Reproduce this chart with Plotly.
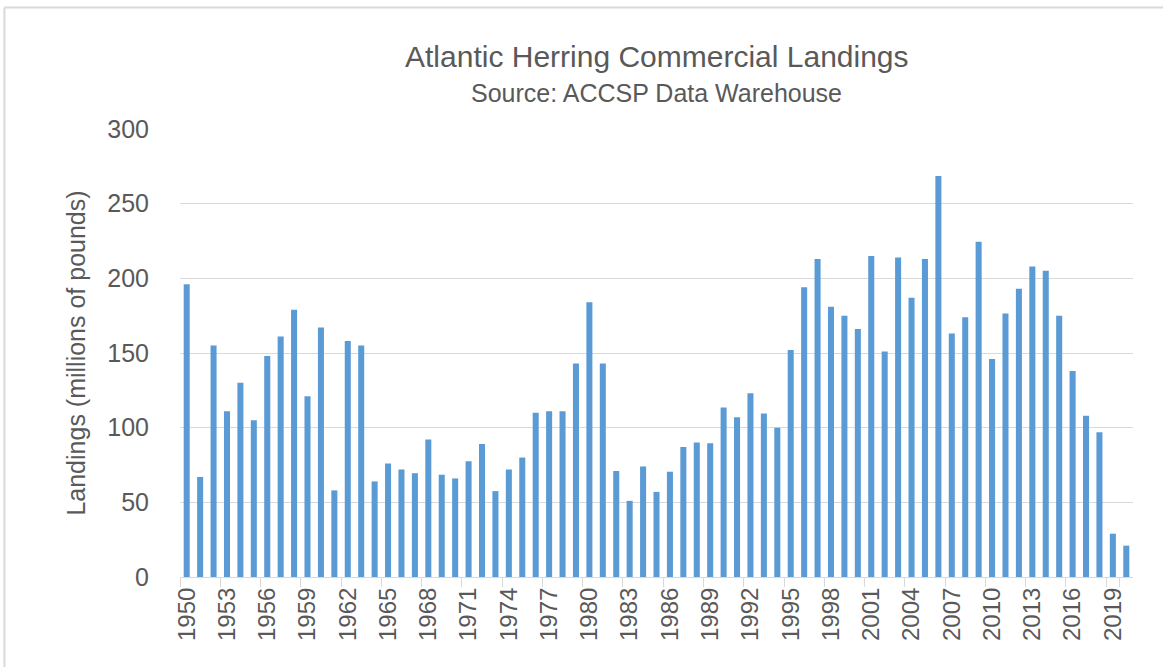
import plotly.graph_objects as go

years = [str(y) for y in range(1950, 2021)]
landings = [
    196, 67, 155, 111, 130, 105, 148, 161, 179, 121,
    167, 58, 158, 155, 64, 76, 72, 69.5, 92, 68.5,
    66, 77.5, 89, 57.5, 72, 80, 110, 111, 111, 143,
    184, 143, 71, 51, 74, 57, 70.5, 87, 90, 89.5,
    113.5, 107, 123, 109.5, 100, 152, 194, 213, 181, 175,
    166, 215, 151, 214, 187, 213, 268.5, 163, 174, 224.5,
    146, 176.5, 193, 208, 205, 175, 138, 108, 97, 29,
    21,
]
tick_labels = [str(y) for y in range(1950, 2021, 3)]

title_text = "Atlantic Herring Commercial Landings"
subtitle_text = "Source: ACCSP Data Warehouse"
y_title = "Landings (millions of pounds)"

font_family = "Liberation Sans, Arial, sans-serif"
text_color = "#595959"

fig = go.Figure(
    go.Bar(x=years, y=landings, marker=dict(color="#5b9bd5", line=dict(width=0)))
)

fig.update_layout(
    width=1163,
    height=667,
    margin=dict(l=180, r=30, t=129, b=90),
    paper_bgcolor="white",
    plot_bgcolor="white",
    bargap=0.55,
    showlegend=False,
    font=dict(family=font_family, color=text_color),
)

fig.update_xaxes(
    type="category",
    tickmode="array",
    tickvals=tick_labels,
    ticktext=tick_labels,
    tickangle=-90,
    tickfont=dict(size=24, color=text_color),
    showline=True,
    linecolor="#d9d9d9",
    linewidth=1,
    showgrid=False,
    ticks="outside",
    tickson="boundaries",
    ticklen=9,
    tickcolor="#d9d9d9",
)

fig.update_yaxes(
    range=[0, 300],
    tickvals=[0, 50, 100, 150, 200, 250, 300],
    tickfont=dict(size=25, color=text_color),
    showgrid=True,
    gridcolor="#d9d9d9",
    gridwidth=1,
    zeroline=False,
    showline=False,
    ticklabelstandoff=30,
    title=dict(text=y_title, font=dict(size=25, color=text_color), standoff=14),
)

fig.add_annotation(
    text=title_text, xref="paper", yref="paper", x=0.5, y=1, yshift=73,
    xanchor="center", yanchor="middle", showarrow=False,
    font=dict(size=30, color=text_color, family=font_family),
)
fig.add_annotation(
    text=subtitle_text, xref="paper", yref="paper", x=0.5, y=1, yshift=36,
    xanchor="center", yanchor="middle", showarrow=False,
    font=dict(size=25, color=text_color, family=font_family),
)

# outer chart border (top and left edges visible in the reference crop)
fig.add_shape(
    type="line", xref="paper", yref="paper",
    x0=-0.1842, x1=1.05, y0=1.2712, y1=1.2712,
    line=dict(color="#d9d9d9", width=2),
)
fig.add_shape(
    type="line", xref="paper", yref="paper",
    x0=-0.1842, x1=-0.1842, y0=-0.3, y1=1.2712,
    line=dict(color="#d9d9d9", width=2),
)

fig.write_html(
    "out.html",
    config={"displayModeBar": False},
    post_script="document.body.style.margin='0';document.body.style.overflow='hidden';",
)
